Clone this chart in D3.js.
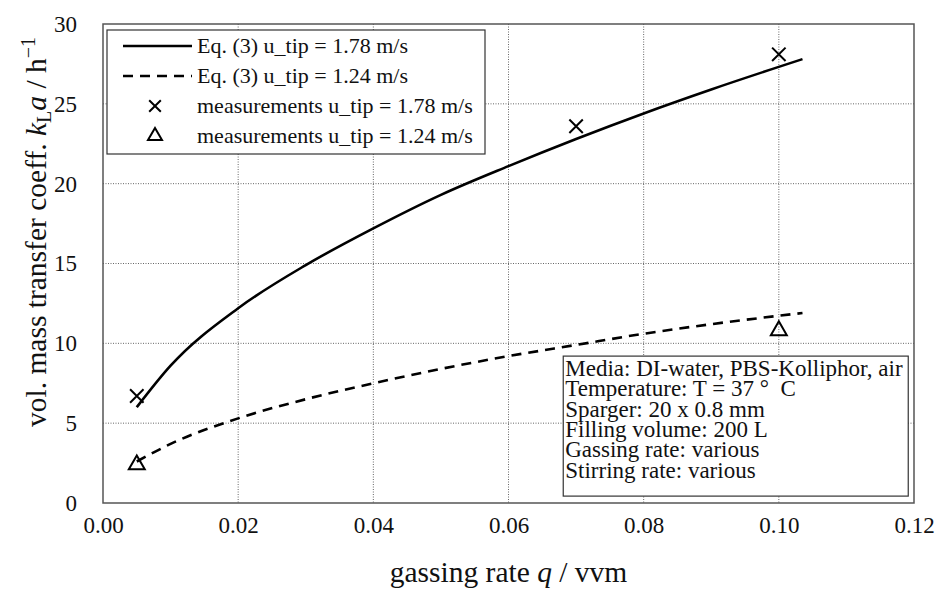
<!DOCTYPE html>
<html>
<head>
<meta charset="utf-8">
<script src="https://cdn.jsdelivr.net/npm/d3@7"></script>
<style>
  body { margin: 0; background: #fff; }
  svg { display: block; font-family: "Liberation Serif", "Times New Roman", serif; }
</style>
</head>
<body>
<div id="chart"></div>
<script>
// kLa vs gassing rate - Eq. (3) curves and measurements

const qFit = [0.005, 0.01, 0.02, 0.03, 0.04, 0.05, 0.06, 0.07, 0.08, 0.09, 0.1035];
const fitHigh = [6.0, 8.6, 12.2, 14.9, 17.2, 19.3, 21.1, 22.8, 24.4, 25.9, 27.8];
const fitLow = [2.6, 3.7, 5.3, 6.5, 7.5, 8.4, 9.2, 9.9, 10.6, 11.2, 11.9];

const qMeasHigh = [0.005, 0.07, 0.10];
const measHigh = [6.7, 23.6, 28.1];
const qMeasLow = [0.005, 0.10];
const measLow = [2.4, 10.8];

const xTicks = [0, 0.02, 0.04, 0.06, 0.08, 0.10, 0.12];
const yTicks = [0, 5, 10, 15, 20, 25, 30];

const legendLabels = [
    "Eq. (3) u_tip = 1.78 m/s",
    "Eq. (3) u_tip = 1.24 m/s",
    "measurements u_tip = 1.78 m/s",
    "measurements u_tip = 1.24 m/s"
];

const infoLines = [
    "Media: DI-water, PBS-Kolliphor, air",
    "Temperature: T = 37 °\u00a0\u00a0C",
    "Sparger: 20 x 0.8 mm",
    "Filling volume: 200 L",
    "Gassing rate: various",
    "Stirring rate: various"
];

const width = 940;
const height = 594;
const margin = {top: 24, right: 26, bottom: 91, left: 103};
const innerWidth = width - margin.left - margin.right;
const innerHeight = height - margin.top - margin.bottom;

const svg = d3.select("#chart")
    .append("svg")
    .attr("width", width)
    .attr("height", height);

const inner = svg.append("g")
    .attr("transform", `translate(${margin.left}, ${margin.top})`);

const x = d3.scaleLinear().domain([0, 0.12]).range([0, innerWidth]);
const y = d3.scaleLinear().domain([0, 30]).range([innerHeight, 0]);

// grid
inner.append("g")
    .selectAll("line")
    .data(xTicks.slice(1, -1))
    .join("line")
    .attr("x1", d => x(d)).attr("x2", d => x(d))
    .attr("y1", 0).attr("y2", innerHeight)
    .attr("stroke", "#666")
    .attr("stroke-width", 1)
    .attr("stroke-dasharray", "1,1.5");

inner.append("g")
    .selectAll("line")
    .data(yTicks.slice(1, -1))
    .join("line")
    .attr("x1", 0).attr("x2", innerWidth)
    .attr("y1", d => y(d)).attr("y2", d => y(d))
    .attr("stroke", "#666")
    .attr("stroke-width", 1)
    .attr("stroke-dasharray", "1,1.5");

// axes (labels only)
const xAxis = inner.append("g")
    .attr("transform", `translate(0, ${innerHeight})`)
    .call(d3.axisBottom(x).tickValues(xTicks).tickFormat(d3.format(".2f")).tickSize(0).tickPadding(14));
const yAxis = inner.append("g")
    .call(d3.axisLeft(y).tickValues(yTicks).tickSize(0).tickPadding(26));
[xAxis, yAxis].forEach(a => {
    a.select(".domain").remove();
    a.selectAll("text")
        .attr("font-family", "Liberation Serif")
        .attr("font-size", 23)
        .attr("fill", "#111");
});

// legend box
const legend = inner.append("g").attr("transform", "translate(4, 6)");
legend.append("rect")
    .attr("width", 378)
    .attr("height", 124)
    .attr("fill", "#fff")
    .attr("stroke", "#333")
    .attr("stroke-width", 1.2);

// info box
const info = inner.append("g").attr("transform", `translate(${x(0.0681)}, ${y(9.2)})`);
info.append("rect")
    .attr("width", 345)
    .attr("height", 140)
    .attr("fill", "#fff")
    .attr("stroke", "#333")
    .attr("stroke-width", 1.2);
info.selectAll("text")
    .data(infoLines)
    .join("text")
    .attr("x", 2)
    .attr("y", (d, i) => 20 + i * 20.3)
    .attr("font-size", 23)
    .attr("fill", "#111")
    .text(d => d);

// curves
const line = d3.line()
    .x(d => x(d[0]))
    .y(d => y(d[1]))
    .curve(d3.curveMonotoneX);

inner.append("path")
    .datum(d3.zip(qFit, fitHigh))
    .attr("d", line)
    .attr("fill", "none")
    .attr("stroke", "#000")
    .attr("stroke-width", 2.6);

inner.append("path")
    .datum(d3.zip(qFit, fitLow))
    .attr("d", line)
    .attr("fill", "none")
    .attr("stroke", "#000")
    .attr("stroke-width", 2.6)
    .attr("stroke-dasharray", "10,7");

// markers
const cross = d3.symbol().type(d3.symbolX).size(120);
const tri = d3.symbol().type(d3.symbolTriangle).size(110);

inner.append("g")
    .selectAll("path")
    .data(d3.zip(qMeasHigh, measHigh))
    .join("path")
    .attr("transform", d => `translate(${x(d[0])}, ${y(d[1])})`)
    .attr("d", cross)
    .attr("fill", "none")
    .attr("stroke", "#000")
    .attr("stroke-width", 2);

inner.append("g")
    .selectAll("path")
    .data(d3.zip(qMeasLow, measLow))
    .join("path")
    .attr("transform", d => `translate(${x(d[0])}, ${y(d[1])})`)
    .attr("d", tri)
    .attr("fill", "none")
    .attr("stroke", "#000")
    .attr("stroke-width", 2);

// legend entries
const rowY = i => 16 + i * 30;
legend.append("line")
    .attr("x1", 16).attr("x2", 85)
    .attr("y1", rowY(0)).attr("y2", rowY(0))
    .attr("stroke", "#000").attr("stroke-width", 2.6);
legend.append("line")
    .attr("x1", 16).attr("x2", 85)
    .attr("y1", rowY(1)).attr("y2", rowY(1))
    .attr("stroke", "#000").attr("stroke-width", 2.6)
    .attr("stroke-dasharray", "10,7");
legend.append("path")
    .attr("transform", `translate(48, ${rowY(2)})`)
    .attr("d", d3.symbol().type(d3.symbolX).size(90))
    .attr("fill", "none").attr("stroke", "#000").attr("stroke-width", 2);
legend.append("path")
    .attr("transform", `translate(48, ${rowY(3)})`)
    .attr("d", d3.symbol().type(d3.symbolTriangle).size(85))
    .attr("fill", "none").attr("stroke", "#000").attr("stroke-width", 2);
legend.selectAll("text")
    .data(legendLabels)
    .join("text")
    .attr("x", 90)
    .attr("y", (d, i) => rowY(i))
    .attr("dy", "0.33em")
    .attr("font-size", 22)
    .attr("fill", "#111")
    .text(d => d);

// plot border
inner.append("rect")
    .attr("width", innerWidth)
    .attr("height", innerHeight)
    .attr("fill", "none")
    .attr("stroke", "#555")
    .attr("stroke-width", 1.5);

// axis titles
const xTitle = svg.append("text")
    .attr("x", margin.left + innerWidth / 2)
    .attr("y", 582)
    .attr("text-anchor", "middle")
    .attr("font-size", 29.5)
    .attr("fill", "#111");
xTitle.append("tspan").text("gassing rate ");
xTitle.append("tspan").attr("font-style", "italic").text("q");
xTitle.append("tspan").text(" / vvm");

const yTitle = svg.append("text")
    .attr("transform", `translate(46, 232) rotate(-90)`)
    .attr("text-anchor", "middle")
    .attr("font-size", 29.5)
    .attr("fill", "#111");
yTitle.append("tspan").text("vol. mass transfer coeff. ");
yTitle.append("tspan").attr("font-style", "italic").text("k");
yTitle.append("tspan").attr("font-size", 20).attr("dy", 5).text("L");
yTitle.append("tspan").attr("font-style", "italic").attr("dy", -5).text("a");
yTitle.append("tspan").text(" / h");
yTitle.append("tspan").attr("font-size", 20).attr("dy", -11).text("\u22121");
</script>
</body>
</html>
